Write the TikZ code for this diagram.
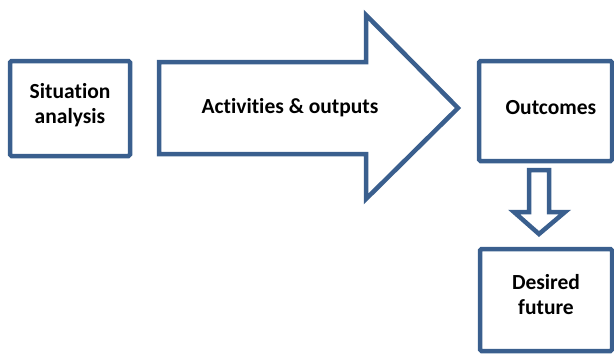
\documentclass[tikz,border=0pt]{standalone}
\usepackage{fontspec}
\setmainfont{Carlito}[Ligatures={NoCommon}]
\begin{document}
\begin{tikzpicture}[x=1pt,y=-1pt,
  every node/.style={font=\bfseries\fontsize{21.5}{25}\selectfont, align=center, inner sep=0pt},
  frame/.style={draw=edgeblue, line width=4.5pt, rounded corners=1.5pt},
  bigarrow/.style={draw=edgeblue, line width=4.5pt, line join=miter, fill=white}]
\definecolor{edgeblue}{HTML}{3A5F8E}
\useasboundingbox (0,0) rectangle (614,354);
% boxes
\draw[frame] (10,61) rectangle (130,156);
\node (sit) at (70,105) {Situation\\analysis};
\draw[frame] (479,61) rectangle (612,161);
\node (out) at (551,108) {Outcomes};
\draw[frame] (480,249) rectangle (612,351);
\node (fut) at (546,295) {Desired\\future};
% main block arrow
\draw[bigarrow] (159,62) -- (366,62) -- (366,15) -- (458,108) -- (366,199) -- (366,154) -- (159,154) -- cycle;
\node (act) at (290,108) {Activities \& outputs};
% small downward block arrow
\draw[bigarrow] (529,170) -- (549,170) -- (549,212) -- (565,212) -- (539,234) -- (514,212) -- (529,212) -- cycle;
\end{tikzpicture}
\end{document}
